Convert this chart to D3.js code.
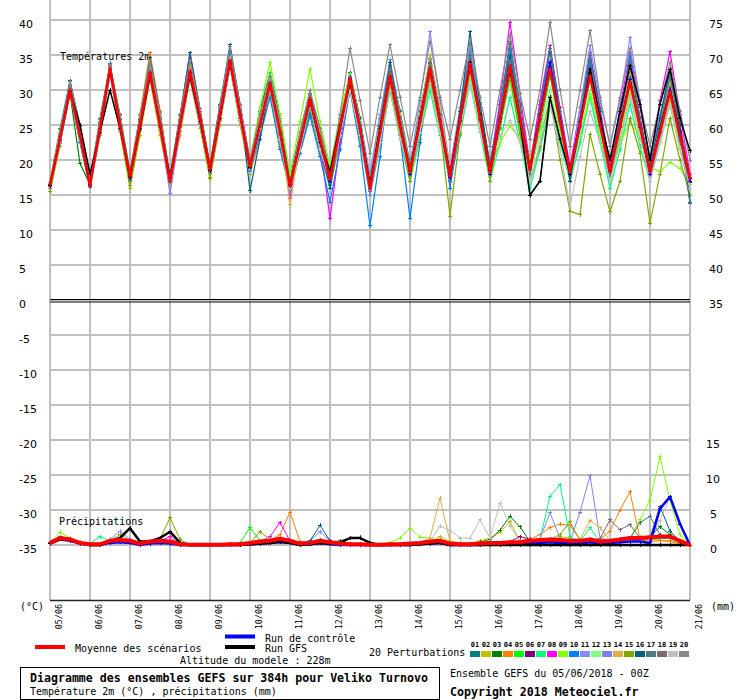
<!DOCTYPE html>
<html><head><meta charset="utf-8">
<script src="https://cdn.jsdelivr.net/npm/d3@7"></script>
<style>
html,body{margin:0;padding:0;background:#fff;}
svg{display:block;}
text{font-family:"DejaVu Sans Mono",monospace;fill:#000;}
.tick{font-family:"DejaVu Sans",sans-serif;font-size:11px;}
</style></head>
<body>
<script>
// ---------- DATA ----------
const dates = ["05/06","06/06","07/06","08/06","09/06","10/06","11/06","12/06","13/06","14/06","15/06","16/06","17/06","18/06","19/06","20/06","21/06"];
const leftTicks = [40,35,30,25,20,15,10,5,0,-5,-10,-15,-20,-25,-30,-35];
const rightTempTicks = [75,70,65,60,55,50,45,40,35];
const rightPrecipTicks = [15,10,5,0];
const memberNames = ["01","02","03","04","05","06","07","08","09","10","11","12","13","14","15","16","17","18","19","20"];
const memberColors = ["#008080","#c0c000","#008000","#ff8000","#00ff00","#800080","#00ff80","#ff00ff","#80ff00","#0080ff","#8888ff","#80ff80","#8080f0","#e0b040","#80a800","#006080","#507880","#806870","#c0c0c0","#888888"];

// temperatures 2m, 6-hourly (00Z,06Z,12Z,18Z per day)
const t01=[16.8,24.5,31.3,25, 17.2,26,33.5,26.5, 18.3,26.5,33.5,26.5, 17.8,26.5,33.5,27, 19.3,28,35.5,28, 19.8,27,32.5,26, 17.3,24,29.5,24.5, 18.3,26,32.5,26, 17.5,26,33.5,27, 19.5,27,34.5,27, 18.5,27,35.5,28, 19.5,28,36.5,28, 19.5,28,35.5,27, 18.5,26,33.5,26, 18.5,26,32.5,26, 18.5,26,31.5,25, 17.5];
const t02=[15.5,22,30.5,22.5, 16.3,23.5,32.5,24, 16,23.5,31.5,23.5, 16.3,23.5,31.5,24.5, 17.5,25,33.5,25, 18,23,29.5,22, 15.5,21,27.5,21, 16,22.5,30.5,23, 15,22,30.5,23, 17,23,31.5,24, 17,24,32.5,25, 18,25,34.5,26, 20,26,33.5,25, 19,25,32.5,24, 17,23,29.5,23, 19,23,28.5,22, 16];
const t03=[16.5,22.5,29.5,19.5, 16.5,24,32.5,24.5, 17.5,24.5,32,24.5, 17,24.5,32,25, 18.5,26,33.5,26, 19,24.5,30.5,23.5, 16,21.5,27,21.5, 17,23.5,30,23.5, 16,22.5,31,23.5, 18,24.5,32,24.5, 18,25.5,34,25.5, 19,25.5,34,24.5, 14.9,17,28,24, 19,25.5,34,25.5, 20,25.5,32,24.5, 19,23.5,30,22.5, 18];
const t04=[16.6,23.5,30.5,24, 16.6,25.5,33.5,26, 17.6,26.5,35.3,27, 17.2,26,33.8,26.5, 18.6,27,34.8,27, 19.2,25.5,31.3,24.5, 16.2,23,28.8,23.5, 17.6,25.5,32.3,25.5, 16.6,25,33.3,26, 18.6,26.5,34.3,26.5, 17.6,26.5,34.8,27, 18.2,26.5,34.3,26.5, 18.6,26.5,33.3,25.5, 18.2,25.5,32.3,25.5, 18.2,25.5,32.3,25.5, 18.2,24.5,30.3,24, 17.2];
const t05=[16.4,22.5,29.8,22.5, 17,24.5,32.8,24.5, 17.5,24.5,31.8,24.5, 17,24.5,32.3,25, 18.5,25.5,33.3,25.5, 19.5,25.5,32.5,24.5, 17,22.5,29,22.5, 18,24.5,31,23.5, 16,22.5,30,23.5, 18,23.5,31,24.5, 18,24.5,32,24.5, 18,24.5,32,24.5, 18,24.5,32,24.5, 17,22.5,30,23.5, 17,23.5,31,24.5, 19,24.5,31,23.5, 18];
const t06=[16.3,23.5,29.8,23.5, 16.2,25,33.2,25.5, 17.3,25.5,32.8,25.5, 16.8,25.5,33,26.5, 18.4,27,34.3,27, 18.8,25.5,31.2,24.5, 15.8,22.5,28.3,23, 16.8,24.5,31.3,24.5, 15.5,24,32.3,25.5, 17.8,25.5,33.3,26.5, 17.8,26.5,34.3,26.5, 18.8,26.5,33.3,26.5, 18.8,26.5,33.3,25.5, 17.8,25.5,32.3,25.5, 17.8,25.5,31.3,25.5, 17.8,24.5,30.3,24.5, 16.8];
const t07=[16.8,23,30.3,23, 16.8,24,32.3,24.5, 17.8,24.5,31.8,24.5, 17,24.5,31.8,25, 19,26,33.3,25.5, 19,24.5,30,23, 16,21.5,27.5,21.5, 16.5,23,30,23, 15,22,30,23, 17,23.5,30,23.5, 17,23.5,31,24, 17,22.5,29,22.5, 16,21.5,28,22.5, 17,22.5,29,22.5, 16,21.5,28,22, 17,22.5,28,21.5, 16];
const t08=[16.5,23.5,30.2,24, 16.5,25,33.3,25.5, 17.5,26,33.3,26, 17,26,35.3,27, 18.7,27.5,35.3,28, 19.5,25.5,31.3,24.5, 14.5,22.5,28.3,22.5, 11.6,22.5,31.3,24.5, 16,24.5,32.3,25.5, 18,25.5,33.3,26.5, 17,25.5,34.3,27.5, 19,28.5,39.7,29.5, 19,28.5,36.3,27.5, 19,27.5,35.3,27.5, 19,27.5,35.3,27.5, 20,28.5,35.5,26.5, 18];
const t09=[16.6,23.8,30.5,24, 16.9,25.5,33.2,25.5, 17.6,26,32.8,25.5, 17.1,25.5,32.3,26, 18.6,26.5,33.8,26.5, 20,27.5,34,26.5, 18,25.5,33,25.5, 19,26.5,32.3,25.5, 17,25.5,33.3,26.5, 19,26.5,32.3,25.5, 18,25.5,32.3,25.5, 19,22.5,24.9,23, 20,23.5,28.3,24.5, 18,23.5,29.3,24.5, 17,22.5,25.3,23.5, 19,18.3,19.7,18.8, 16.5];
const t10=[16.3,22.3,29.6,22.5, 16.3,24,33.8,25, 17.3,24.5,33.2,24.5, 16.8,24.5,33.2,25.5, 18.5,26.5,35.2,26.5, 18.5,23.5,29,21.5, 15.8,21,26.3,20.5, 14,21.5,30,22, 10.6,20.5,33,23.5, 11.7,22.5,35,26.5, 16,24.5,34,26.5, 18,26.5,36,26.5, 18,26.5,36,26.5, 17,25.5,34,25.5, 17,25.5,35,25.5, 18,25.5,33,24.5, 14];
const t11=[16.4,23.3,30.2,23.8, 16.1,24.8,33.2,25.3, 17.1,25.3,32.7,25.3, 16.9,25.3,32.9,26.3, 18.6,26.8,34.2,26.8, 18.9,25.3,31.2,24.3, 16.4,22.8,28.7,23.3, 17.4,24.8,31.7,25.3, 18,26.5,34.3,26.5, 19,28.5,38.3,28.5, 19,27.5,36.3,27.5, 18,26.5,34.3,26.5, 19,26.5,34.3,26.5, 18,27.5,36.3,28.5, 22,28.5,37.5,28.5, 20,26.5,32.3,24.5, 17];
const t12=[16.6,22.7,30.1,23.2, 16.9,24.7,33.1,24.7, 17.9,25.2,32.6,24.7, 17.4,24.7,32.6,25.2, 19.1,26.2,34.1,26.2, 19.6,25.2,31.6,24.2, 16.6,22.7,29.1,22.7, 17.6,24.2,31.1,24.2, 16.6,23.7,31.6,24.2, 18.6,25.2,32.1,24.7, 18.1,24.7,32.1,24.7, 18.1,24.7,31.1,23.7, 18.1,23.7,30.1,23.7, 17.1,23.7,30.1,23.7, 18.1,23.7,30.1,23.7, 18.1,22.7,28.1,21.7, 16];
const t13=[16.2,22.6,29.7,22.6, 16.1,23.6,32.3,24.6, 16.9,24.6,32.3,24.6, 15.2,24.1,31.8,25.1, 18.1,25.6,33.3,25.6, 18.4,24.1,30.3,23.1, 15.4,21.6,27.8,21.6, 16.4,23.6,30.8,23.6, 15,22.6,31.5,24.1, 18,24.6,33,25.6, 17,24.6,33,25.6, 18,25.6,34,25.6, 18,25.6,34,25.6, 17,24.6,33,25.6, 18,24.6,32,24.6, 17,23.6,30,23.1, 16];
const t14=[16.5,24,30.7,24, 16.5,25,33.2,25.5, 17.5,26,34,26.5, 17,26,33.7,26.5, 18.5,27,34.7,27.5, 19,25.5,31.2,24.5, 13.6,22.5,28.2,22.5, 17,24.5,31.2,25, 16,25,33.2,26.5, 18,26.5,35,27.5, 18.5,26.5,34.2,26.5, 19,26.5,33.2,25.5, 19,26.5,33.2,25.5, 18,25.5,32.2,25.5, 18,25.5,32.2,25.5, 19,25.5,31.2,24.5, 17];
const t15=[15.5,22.7,29.8,23.2, 16.4,24.2,32.3,24.2, 16.3,24.2,31.8,24.7, 16.9,24.7,32.3,25.2, 17.3,25.7,33.8,26.2, 18.9,24.7,30.8,23.7, 15.9,21.7,28.3,22.2, 16.9,23.7,30.8,23.7, 16,23.2,30.8,23.7, 17,24.7,31.8,24.7, 12,23.7,32.8,25.7, 17,24.7,31.8,23.7, 17,22,29,20, 12.7,12.2,23.7,18, 12.6,17,26,21, 11,18,26,20, 15];
const t16=[16,23.3,31.3,24.3, 16.5,25.3,33.7,25.8, 17.5,25.8,34.6,26.8, 17,26.3,35.3,27.3, 19,27.8,36.5,27.8, 15.6,23,31,24, 16,22,28,22, 16,24,32,25, 16,25,34,26, 18,26,34,26.5, 18,27,38.3,28, 19,27,35,26, 18,27,36,27, 17,26,35,27, 18,26,34,26, 19,26,33,25, 14];
const t17=[16.2,23.2,30.6,23.7, 16.2,24.7,33.1,25.2, 17.2,25.2,32.6,25.2, 16.9,25.2,32.6,26.2, 18.4,26.7,34.1,26.7, 19,25,31,24, 16,22.5,29,23, 17,24.5,32,25, 16,24.5,33,26, 18,26,34,26, 17,26,35,27, 18,27,37,27, 19,27,36,27, 18,26,35,26, 18,26,34,26, 18,25,32,24, 13.8];
const t18=[16.5,22.8,29.9,23.3, 16.5,24.3,32.8,24.8, 17.5,24.8,32.3,24.8, 17,24.8,32.3,25.8, 18.7,26.3,33.8,26.3, 19.5,25.3,30.8,23.8, 16.5,22.8,29.3,23.3, 18,24.8,31.8,24.8, 17,24.8,32.8,25.8, 19,25.8,33.8,26.3, 18,25.8,33.8,25.8, 18,25.8,33.8,25.8, 18,25.8,33.8,25.8, 18,24.8,32.8,25.3, 18,24.8,31.8,24.8, 18,23.8,29.8,22.8, 17];
const t19=[16.5,22.5,29.6,23, 16.5,24,32.3,24, 17.5,24.5,31.7,24.5, 17,24.5,31.7,25, 18.5,25.5,33.2,25.5, 19,24.5,30.5,23, 16,21.5,28,21.5, 17,23.5,30,23.5, 16,22.5,30,23, 18,24,31,24, 18,24.5,31,24, 19,23.5,25.6,22.5, 17,22.5,28,21.5, 13.3,20.5,27,22.5, 17,22.5,29,23.5, 17,22.5,28,21.5, 16];
const t20=[16,23.8,31.2,24.8, 16.4,25.8,33.6,26.3, 17.4,26.3,34.2,26.8, 17,26.3,34.2,27.3, 19,27.8,36.2,27.8, 20,26.5,32,25.5, 16.5,24,30,24.5, 18,26.5,36,28.5, 21,29,36.5,29, 22,29,37,29, 23,30,37,29, 22,30,38,29.5, 23,30,39.7,30, 22,30,38.5,29, 22,29,36,28, 22,28,34,27, 20];
const tCtl=[16.5,23,30,23.5, 16.5,24.5,33,25, 17.5,25,32.5,25, 17,25,32.5,26, 18.7,26.5,34,26.5, 19,25,31,24, 16.3,22.5,28.5,23, 17,24.5,31.5,24.5, 16,24,32,25, 18,25.5,33,25.5, 17.5,25.5,33.5,26, 18,25.5,33,26, 19,26.5,34,26, 18.5,25.5,32.5,25, 18.5,25,31.5,25, 18,24.5,30,24, 17];
const tGfs=[16.3,23,29.8,25, 18,24,30,24.5, 17.5,24.5,32,25, 17.5,25,32,25.5, 18.5,26,34,26.5, 19,25,31,24, 16.5,22.5,28.5,22.5, 18.4,25,31,24.5, 16.5,24.5,32,25, 18.5,26,33,25.5, 18,26,34,26.5, 18.5,26,33,25.5, 15,17,29,23, 18,25,33,26, 20,27,33.5,28, 20,28,33,26, 21.3];
const tMean=[16.5,23,30,23.5, 16.3,24.5,33,25, 17.7,25,32.5,25, 17,25,32.7,26, 18.7,26.5,34.2,26.5, 19.1,25,30.9,24, 16.3,22.5,28.7,23, 17.3,24.5,31.6,24.5, 15.9,24,32,25, 18.3,25.5,33,25.5, 17.7,25.7,33.7,26, 18.3,25.8,33.4,26, 18.7,26,33,25.5, 18.3,25,32,25, 18.3,24.7,31.1,24.7, 18.3,24,29.7,23.5, 17.3];

// precipitation (mm per 6h)
const p01=[0.4,1.2,0.9,0.3, 0,0,0.5,0.6, 0.5,0.2,0.4,0.5, 0.6,0.1,0,0, 0,0,0,0, 0.2,0.5,0.6,0.8, 0.4,0.2,0.3,0.5, 0.3,0.2,0,0, 0,0,0,0, 0.2,0.3,0.5,0.5, 0.2,0,0,0.2, 0.2,0.2,0.3,0.3, 0.5,0.6,0.5,0.4, 0.5,0.6,0.8,0.3, 0.5,0.8,0.6,0.8, 0.8,0.9,1.0,0.4, 0];
const p02=[0.3,0.9,0.7,0.2, 0,0,0.4,0.8, 0.6,0.1,0.3,0.5, 0.4,0,0,0, 0,0,0,0, 0.3,0.4,0.5,0.7, 0.5,0.1,0.2,0.4, 0.3,0.1,0,0, 0,0,0,0, 0.1,0.2,0.4,1.2, 0.5,0.3,0.2,0.6, 1.0,1.8,3.3,0.5, 0.4,0.3,0.6,1.2, 1.0,0.4,0.4,0.3, 0.4,0.5,0.7,0.6, 0.8,0.7,0.6,0.3, 0];
const p03=[0.3,1.1,0.8,0.3, 0,0.1,0.5,0.7, 0.6,0.2,0.5,0.6, 0.5,0,0,0, 0,0,0,0, 0.3,0.4,0.6,0.8, 0.5,0.2,0.3,0.5, 0.4,0.6,1.0,1.1, 0.3,0,0,0.1, 0.2,0.2,0.4,0.5, 0.2,0.1,0.2,0.4, 0.8,2.1,4.1,2.6, 0.5,0.6,0.5,0.4, 0.5,0.4,0.5,0.3, 0.5,0.7,0.8,1.0, 1.2,2.6,1.5,0.6, 0];
const p04=[0.3,0.9,0.7,0.3, 0,0.1,0.6,0.7, 0.6,0.2,0.5,0.6, 0.5,0,0,0, 0,0,0,0, 0.3,0.5,0.6,1.5, 4.7,0.5,0.3,0.5, 0.4,0.2,0,0, 0,0,0,0, 0.2,0.3,0.5,0.6, 0.2,0,0,0.2, 0.3,0.2,0.4,0.6, 0.8,1.5,2.5,3.0, 2.8,0.8,0.5,0.8, 2.0,5.0,7.6,0.8, 0.5,0.6,0.5,0.2, 0];
const p05=[0.4,1.1,0.9,0.4, 0.1,0.1,0.6,0.7, 0.6,0.2,0.5,0.6, 0.4,0,0,0, 0,0,0,0.3, 2.5,0.6,0.5,0.8, 0.6,0.2,0.3,0.5, 0.3,0.2,0.1,0.1, 0,0,0,0, 0.2,0.3,0.5,0.6, 0.2,0.1,0.1,0.2, 0.2,0.3,0.4,0.4, 0.6,0.7,0.8,0.6, 0.5,0.6,0.8,0.5, 0.6,0.9,1.0,1.1, 1.2,1.0,1.2,0.6, 0];
const p06=[0.3,1.0,0.8,0.3, 0,0,0.5,0.6, 0.5,0.2,0.4,0.6, 0.5,0,0,0, 0,0,0,0, 0.3,0.5,0.6,0.8, 0.6,0.2,0.3,0.5, 0.4,0.2,0,0, 0,0,0,0, 0.2,0.3,0.5,0.6, 0.2,0.1,0.1,0.2, 0.3,0.3,0.5,1.2, 0.8,0.7,0.8,0.7, 0.6,0.5,0.7,0.5, 0.5,0.7,0.9,1.0, 1.1,1.3,1.2,0.6, 0];
const p07=[0.3,1.0,0.8,0.3, 0.2,1.2,0.6,0.6, 0.5,0.2,0.4,0.5, 0.4,0,0,0, 0,0,0,0, 0.2,0.4,0.5,0.7, 0.5,0.2,0.3,0.5, 0.3,0.2,0,0, 0,0,0,0, 0.1,0.2,0.4,0.5, 0.1,0,0,0.1, 0.2,0.2,0.3,0.3, 0.5,0.8,7.0,8.6, 1.2,0.5,2.5,0.4, 0.5,0.7,0.8,0.9, 1.0,1.0,1.1,0.5, 0];
const p08=[0.3,1.0,0.8,0.3, 0,0,0.5,0.7, 0.6,0.2,0.5,0.6, 1.2,0,0,0, 0,0,0,0, 0.3,0.5,1.2,3.2, 0.6,0.2,0.3,0.5, 0.3,0.2,0,0, 0,0,0,0, 0.2,0.3,0.5,0.6, 0.2,0.1,0.1,0.2, 0.2,0.3,0.4,0.4, 0.6,0.7,0.8,0.7, 0.6,0.6,0.8,0.5, 0.6,0.8,1.0,1.0, 1.1,1.2,1.2,0.6, 0];
const p09=[0.3,1.8,1.0,0.3, 0,0,0.5,0.7, 0.6,0.2,0.5,0.6, 0.5,0,0,0, 0,0,0,0, 0.3,0.5,0.6,0.8, 0.6,0.2,0.3,0.5, 0.4,0.2,0.1,0.1, 0,0,0.3,1.0, 2.4,1.1,1.0,0.6, 0.2,0.1,0.1,0.2, 0.3,0.3,0.4,0.4, 0.6,0.7,0.8,0.7, 0.6,0.6,0.8,0.5, 0.6,0.8,1.0,3.6, 6.4,12.6,6.4,1.5, 0];
const p10=[0.3,1.0,0.8,0.3, 0,0,0.6,0.8, 0.7,0.2,0.5,0.7, 0.6,0.1,0,0, 0,0,0,0, 0.3,0.5,0.6,0.9, 0.6,0.2,0.4,0.7, 0.5,0.2,0.1,0.1, 0,0,0,0, 0.2,0.3,0.5,0.6, 0.2,0.1,0.1,0.2, 0.3,0.3,0.4,0.5, 0.6,0.7,0.8,0.7, 0.6,0.6,0.8,0.5, 0.6,0.8,1.0,1.0, 1.1,1.2,1.2,0.6, 0];
const p11=[0.4,1.1,0.8,0.3, 0.1,0.2,0.8,2.0, 0.8,0.2,0.5,0.6, 0.5,0.1,0,0, 0,0,0,0, 0.3,0.5,0.6,0.9, 0.6,0.2,0.6,1.9, 0.6,0.2,0.1,0.1, 0,0,0,0, 0.2,0.3,0.5,0.6, 0.2,0.1,0.1,0.2, 0.3,0.3,0.4,0.5, 0.6,0.9,4.6,1.0, 0.6,0.6,0.8,0.5, 0.6,0.8,1.0,1.0, 1.1,1.2,1.2,0.6, 0];
const p12=[0.3,1.0,0.8,0.3, 0,0,0.5,0.6, 0.5,0.2,0.4,0.5, 0.4,0,0,0, 0,0,0,0, 0.2,0.4,0.5,0.7, 0.5,0.2,0.3,0.5, 0.3,0.2,0,0, 0,0,0,0, 0.2,0.3,0.4,0.5, 0.2,0.1,0.1,0.2, 0.3,0.3,0.4,0.4, 0.5,0.6,0.7,0.6, 0.5,0.5,0.7,0.5, 0.6,0.7,0.9,1.0, 1.0,1.1,1.0,0.5, 0];
const p13=[0.3,1.0,0.8,0.3, 0,0,0.5,0.6, 0.5,0.2,0.4,0.5, 0.4,0,0,0, 0,0,0,0, 0.2,0.4,0.5,0.7, 0.5,0.2,0.3,0.5, 0.3,0.2,0,0, 0,0,0,0, 0.2,0.3,0.4,0.5, 0.2,0.1,0.1,0.2, 0.3,0.3,0.4,0.4, 0.5,0.6,0.7,0.6, 0.5,4.7,9.9,1.0, 0.6,0.7,0.9,1.0, 1.0,1.1,1.0,0.5, 0];
const p14=[0.3,1.0,0.8,0.3, 0,0,0.5,0.6, 0.5,0.2,0.4,0.5, 0.4,0,0,0, 0,0,0,0, 0.2,0.4,0.5,0.7, 0.5,0.2,0.3,0.5, 0.3,0.2,0,0, 0,0,0,0, 0.2,0.3,1.0,6.7, 0.5,0.2,0.1,0.2, 0.3,0.3,0.4,0.4, 0.5,0.6,0.7,0.6, 0.5,0.8,3.5,2.5, 0.6,0.7,0.9,1.0, 1.0,1.1,1.0,0.5, 0];
const p15=[0.3,1.0,0.8,0.3, 0,0,0.6,1.5, 0.6,0.2,0.5,0.8, 3.9,0.8,0,0, 0,0,0,0, 0.3,1.9,0.8,0.8, 0.6,0.2,0.3,0.5, 0.4,0.2,0.1,0.1, 0,0,0,0, 0.2,0.3,0.5,0.6, 0.2,0.1,0.1,0.2, 0.3,0.3,0.4,0.4, 0.6,0.7,0.8,1.5, 3.3,0.6,0.8,0.5, 0.6,0.8,1.0,1.0, 1.1,1.2,1.2,0.6, 0];
const p16=[0.3,1.0,0.8,0.3, 0,0,0.5,0.6, 0.5,0.2,0.4,0.5, 0.4,0,0,0, 0,0,0,0, 0.2,0.4,0.5,0.7, 0.5,0.2,0.6,2.8, 0.6,0.2,0,0, 0,0,0,0, 0.2,0.3,0.4,0.5, 0.2,0.1,0.1,0.2, 0.3,0.3,0.4,0.4, 0.5,0.6,0.7,0.6, 0.5,0.5,0.7,0.5, 0.6,0.7,0.9,1.0, 1.0,5.5,2.0,0.5, 0];
const p17=[0.3,1.0,0.8,0.3, 0,0,0.5,0.6, 0.5,0.2,0.4,0.5, 0.4,0,0,0, 0,0,0,0, 0.2,0.4,0.5,0.7, 0.5,0.2,0.3,0.5, 0.3,0.2,0,0, 0,0,0,0, 0.2,0.3,0.4,0.5, 0.2,0.1,0.1,0.2, 0.3,0.3,0.4,0.4, 0.5,0.6,0.7,0.6, 0.5,0.5,0.7,0.5, 0.6,0.7,0.9,3.2, 4.1,1.5,1.0,0.5, 0];
const p18=[0.3,1.0,0.8,0.3, 0,0,0.5,0.6, 0.5,0.2,0.4,0.5, 0.4,0,0,0, 0,0,0,0, 0.2,0.4,0.5,0.7, 0.5,0.2,0.3,0.5, 0.3,0.2,0,0, 0,0,0,0, 0.2,0.3,0.4,0.5, 0.2,0.1,0.1,0.2, 0.3,0.3,0.4,0.4, 0.5,0.6,0.7,0.6, 0.5,0.5,0.7,0.9, 3.6,2.2,2.9,1.0, 1.0,1.1,1.0,0.5, 0];
const p19=[0.3,1.0,0.8,0.3, 0,0,0.5,0.6, 0.5,0.2,0.4,0.5, 0.4,0,0,0, 0,0,0,0, 0.2,0.4,0.5,0.7, 0.5,0.2,0.3,0.5, 0.3,0.2,0,0, 0,0,0,0, 0.2,0.3,0.5,2.7, 2.1,1.0,1.0,3.6, 1.0,6.0,2.7,0.5, 0.5,0.6,0.7,0.6, 0.5,0.5,0.7,0.5, 0.6,0.7,0.9,1.0, 1.0,3.5,6.9,3.0, 0];
const p20=[0.3,1.0,0.8,0.3, 0,0,0.5,0.6, 0.5,0.2,0.4,0.5, 0.4,0,0,0, 0,0,0,0, 0.2,0.4,0.5,0.7, 0.5,0.2,0.3,0.5, 0.3,0.2,0,0, 0,0,0,0, 0.2,0.3,0.4,0.5, 0.2,0.1,0.1,0.2, 0.3,0.3,0.4,0.4, 0.5,0.6,0.7,0.6, 0.5,0.5,0.7,0.5, 0.6,0.7,0.9,1.0, 1.0,1.1,1.0,0.5, 0];
const pCtl=[0.2,0.8,0.6,0.2, 0,0,0.3,0.4, 0.3,0,0.2,0.3, 0.2,0,0,0, 0,0,0,0, 0.1,0.2,0.3,0.4, 0.3,0,0.1,0.3, 0.1,0,0,0, 0,0,0,0, 0,0.1,0.2,0.3, 0,0,0,0, 0.1,0.1,0.2,0.2, 0.3,0.3,0.4,0.3, 0.2,0.2,0.4,0.2, 0.3,0.4,0.5,0.5, 0.3,5.2,6.9,3.0, 0];
const pGfs=[0.2,0.8,0.7,0.3, 0,0,0.5,1.0, 2.4,0.5,0.5,1.0, 1.9,0.3,0,0, 0,0,0,0, 0.1,0.2,0.3,0.5, 0.3,0,0.1,0.3, 0.2,0.3,1.0,1.0, 0.3,0,0,0, 0,0.1,0.2,0.3, 0,0,0,0, 0,0,0,0, 0,0,0,0, 0,0,0,0, 0,0,0,0, 0,0,0,0, 0];
const pMean=[0.3,1.0,0.8,0.3, 0.1,0.1,0.6,0.7, 0.6,0.2,0.5,0.6, 0.5,0.1,0.05,0.05, 0.05,0.05,0.1,0.1, 0.3,0.5,0.6,0.9, 0.6,0.2,0.3,0.6, 0.4,0.2,0.1,0.1, 0.05,0.05,0.1,0.1, 0.2,0.3,0.5,0.6, 0.2,0.1,0.1,0.2, 0.3,0.3,0.4,0.4, 0.6,0.7,0.8,0.7, 0.6,0.6,0.8,0.5, 0.6,0.8,1.0,1.0, 1.1,1.2,1.2,0.6, 0];

const tempMembers=[t01,t02,t03,t04,t05,t06,t07,t08,t09,t10,t11,t12,t13,t14,t15,t16,t17,t18,t19,t20];
const precMembers=[p01,p02,p03,p04,p05,p06,p07,p08,p09,p10,p11,p12,p13,p14,p15,p16,p17,p18,p19,p20];

// ---------- CHART ----------
const W=740,H=700;
const svg=d3.select("body").append("svg").attr("width",W).attr("height",H);
const x=d3.scaleLinear().domain([0,64]).range([50,690]);
const yT=d3.scaleLinear().domain([40,-35]).range([20,545]);
const yP=d3.scaleLinear().domain([0,15]).range([545,440]);

const grid=svg.append("g").attr("stroke","#c0c0c0").attr("stroke-width",2).attr("shape-rendering","crispEdges");
grid.selectAll("line.h").data(leftTicks).join("line").attr("class","h")
  .attr("x1",x(0)).attr("x2",x(64)).attr("y1",d=>yT(d)).attr("y2",d=>yT(d));
grid.selectAll("line.v").data(dates).join("line").attr("class","v")
  .attr("x1",(d,i)=>x(i*4)).attr("x2",(d,i)=>x(i*4)).attr("y1",0).attr("y2",600);

// double zero line and bottom axis
svg.append("line").attr("x1",x(0)).attr("x2",x(64)).attr("y1",yT(0)-0.5).attr("y2",yT(0)-0.5).attr("stroke","#000").attr("stroke-width",1.2);
svg.append("line").attr("x1",x(0)).attr("x2",x(64)).attr("y1",yT(0)+2).attr("y2",yT(0)+2).attr("stroke","#000").attr("stroke-width",1.2);
svg.append("line").attr("x1",x(0)).attr("x2",x(64)).attr("y1",600.5).attr("y2",600.5).attr("stroke","#222").attr("stroke-width",1.3);

// tick labels
svg.append("g").selectAll("text").data(leftTicks).join("text").attr("class","tick")
  .attr("x",19).attr("y",d=>yT(d)+8).text(d=>d);
svg.append("g").selectAll("text").data(rightTempTicks).join("text").attr("class","tick")
  .attr("x",709).attr("y",d=>yT(d-35)+8).text(d=>d);
svg.append("g").selectAll("text").data(rightPrecipTicks).join("text").attr("class","tick")
  .attr("x",d=>d>=10?706:710).attr("y",d=>yP(d)+8).text(d=>d);
svg.append("g").selectAll("text").data(dates).join("text")
  .attr("transform",(d,i)=>`translate(${x(i*4)+11.5},604) rotate(-90)`)
  .attr("text-anchor","end").attr("font-size","8.4px").text(d=>d);
svg.append("text").attr("x",20).attr("y",610).attr("font-size","10px").text("(°C)");
svg.append("text").attr("x",711).attr("y",610).attr("font-size","10px").text("(mm)");
svg.append("text").attr("x",60).attr("y",60).attr("font-size","10px").text("Températures 2m");
svg.append("text").attr("x",59).attr("y",525).attr("font-size","10px").text("Précipitations");

const lineT=d3.line().x((d,i)=>x(i)).y(d=>yT(d));
const lineP=d3.line().x((d,i)=>x(i)).y(d=>yP(d));
function crosses(arr,ys,s){return arr.map((d,i)=>`M${x(i)-s},${ys(d)}h${2*s}M${x(i)},${ys(d)-s}v${2*s}`).join("");}
function drawSeries(arr,ys,line,color,w,mk){
  svg.append("path").attr("d",line(arr)).attr("fill","none").attr("stroke",color).attr("stroke-width",w).attr("stroke-linejoin","round");
  svg.append("path").attr("d",crosses(arr,ys,mk)).attr("fill","none").attr("stroke",color).attr("stroke-width",1).attr("shape-rendering","crispEdges");
}
tempMembers.forEach((s,k)=>drawSeries(s,yT,lineT,memberColors[k],1.2,2));
precMembers.forEach((s,k)=>drawSeries(s,yP,lineP,memberColors[k],1,2));
drawSeries(tCtl,yT,lineT,"#0000ff",1.5,2);
drawSeries(pCtl,yP,lineP,"#0000ff",2.5,2);
drawSeries(tGfs,yT,lineT,"#000000",1.5,2);
drawSeries(pGfs,yP,lineP,"#000000",2.5,2);
drawSeries(tMean,yT,lineT,"#ff0000",2.5,2);
drawSeries(pMean,yP,lineP,"#ff0000",4,2);

// legend
svg.append("line").attr("x1",35).attr("x2",65).attr("y1",647).attr("y2",647).attr("stroke","#ff0000").attr("stroke-width",4);
svg.append("text").attr("x",75).attr("y",652).attr("font-size","10px").text("Moyenne des scénarios");
svg.append("line").attr("x1",225).attr("x2",255).attr("y1",636.5).attr("y2",636.5).attr("stroke","#0000ff").attr("stroke-width",4);
svg.append("text").attr("x",265).attr("y",642).attr("font-size","10px").text("Run de contrôle");
svg.append("line").attr("x1",225).attr("x2",255).attr("y1",647).attr("y2",647).attr("stroke","#000").attr("stroke-width",4);
svg.append("text").attr("x",265).attr("y",652).attr("font-size","10px").text("Run GFS");
svg.append("text").attr("x",180).attr("y",664).attr("font-size","10px").text("Altitude du modele : 228m");

svg.append("text").attr("x",369).attr("y",656).attr("font-size","10px").text("20 Perturbations");
const sw=svg.append("g");
sw.selectAll("rect").data(memberColors).join("rect")
  .attr("x",(d,i)=>470+i*11).attr("y",651).attr("width",10).attr("height",6).attr("fill",d=>d);
sw.selectAll("text").data(memberNames).join("text")
  .attr("x",(d,i)=>475+i*11).attr("y",647).attr("text-anchor","middle")
  .attr("font-size","7px").attr("font-weight","bold").text(d=>d);

svg.append("rect").attr("x",20.5).attr("y",667.5).attr("width",419).attr("height",32).attr("fill","none").attr("stroke","#000").attr("stroke-width",1);
svg.append("text").attr("x",30).attr("y",682).attr("font-size","11.6px").attr("font-weight","bold").text("Diagramme des ensembles GEFS sur 384h pour Veliko Turnovo");
svg.append("text").attr("x",30).attr("y",695).attr("font-size","10px").text("Température 2m (°C) , précipitations (mm)");
svg.append("text").attr("x",450).attr("y",677).attr("font-size","10px").text("Ensemble GEFS du 05/06/2018 - 00Z");
svg.append("text").attr("x",450).attr("y",696).attr("font-size","11.6px").attr("font-weight","bold").text("Copyright 2018 Meteociel.fr");
</script>
</body></html>
